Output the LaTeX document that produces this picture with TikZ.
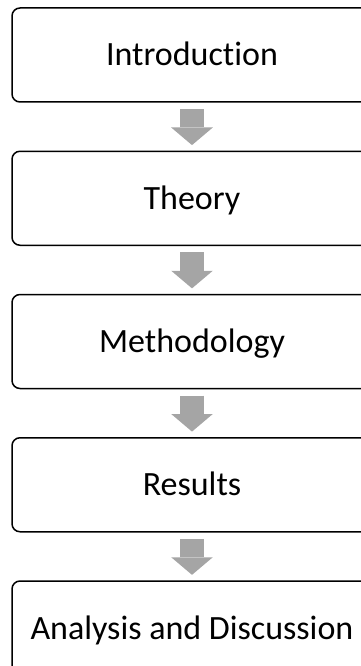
\documentclass[tikz,border=0pt]{standalone}
\usepackage{fontspec}
\setmainfont{Carlito}[Ligatures=NoCommon]
\usetikzlibrary{positioning,arrows.meta}
\definecolor{arrowgray}{HTML}{A5A5A5}

\begin{document}
\begin{tikzpicture}[x=1pt,y=1pt,node distance=47.75pt,
>={Triangle[width=41.6pt,length=17.6pt,line width=0pt]},
stagebox/.style={draw,line width=1.5pt,rounded corners=8pt,minimum width=360pt,minimum height=94pt,
inner sep=0pt,text height=22pt,text depth=0pt,font=\fontsize{34}{41}\selectfont},
flowarrow/.style={->,draw=arrowgray,line width=24.7pt,shorten <=6.3pt,shorten >=5.4pt}]
\clip (0,0) rectangle (361,-666);
\node[stagebox] (intro) at (192,-55) {Introduction};
\node[stagebox,below=of intro] (theory) {Theory};
\node[stagebox,below=of theory] (method) {Methodology};
\node[stagebox,below=of method] (results) {Results};
\node[stagebox,below=of results] (analysis) {Analysis and Discussion};
\draw[flowarrow] (intro) -- (theory);
\draw[flowarrow] (theory) -- (method);
\draw[flowarrow] (method) -- (results);
\draw[flowarrow] (results) -- (analysis);
\end{tikzpicture}
\end{document}
